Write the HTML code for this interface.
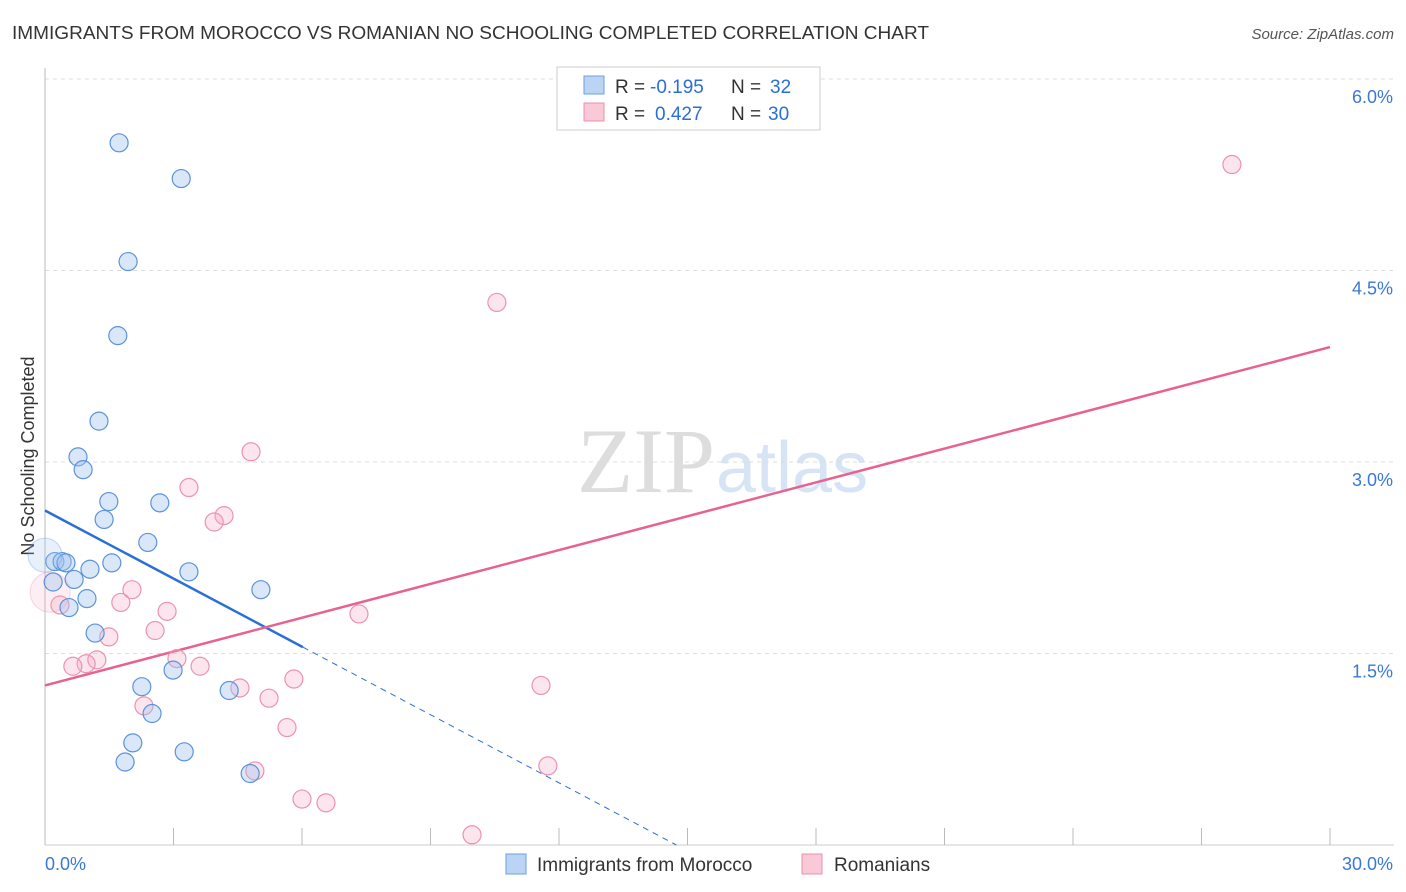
<!DOCTYPE html>
<html><head><meta charset="utf-8">
<style>
body{margin:0;background:#fff;width:1406px;height:892px;overflow:hidden;font-family:"Liberation Sans",sans-serif}
svg{position:absolute;left:0;top:0}
</style></head><body>
<svg id="chart" width="1406" height="892">
<text x="12" y="39" font-size="18" fill="#333" textLength="917" lengthAdjust="spacingAndGlyphs">IMMIGRANTS FROM MOROCCO VS ROMANIAN NO SCHOOLING COMPLETED CORRELATION CHART</text>
<text x="1394" y="39" font-size="15" fill="#555" font-style="italic" text-anchor="end">Source: ZipAtlas.com</text>
<text x="715" y="492" font-size="92" fill="#ddd" text-anchor="end" font-family="Liberation Serif,serif">ZIP</text>
<text x="716" y="492" font-size="72" fill="#d6e4f5">atlas</text>
<text transform="translate(34,456) rotate(-90)" font-size="18" fill="#333" text-anchor="middle">No Schooling Completed</text>
<g id="grid"></g><g id="ticks"></g><g id="trends"></g><g id="pts"></g>
<g>
<rect x="557" y="67" width="263" height="63" fill="#fff" stroke="#ccc"/>
<rect x="584" y="76" width="20" height="18" fill="#bcd4f4" stroke="#6a9fe0"/>
<rect x="584" y="103" width="20" height="18" fill="#f9c9d7" stroke="#ec90ad"/>
<text x="615" y="93" font-size="19" fill="#333">R =</text>
<text x="650" y="93" font-size="19" fill="#2a6fd6">-0.195</text>
<text x="731" y="93" font-size="19" fill="#333">N =</text>
<text x="770" y="93" font-size="19" fill="#2a6fd6">32</text>
<text x="615" y="120" font-size="19" fill="#333">R =</text>
<text x="655" y="120" font-size="19" fill="#2a6fd6">0.427</text>
<text x="731" y="120" font-size="19" fill="#333">N =</text>
<text x="768" y="120" font-size="19" fill="#2a6fd6">30</text>
</g>
<g>
<rect x="506" y="854" width="20" height="20" fill="#bcd4f4" stroke="#6a9fe0"/>
<text x="537" y="871" font-size="19" fill="#333">Immigrants from Morocco</text>
<rect x="802" y="854" width="20" height="20" fill="#f9c9d7" stroke="#ec90ad"/>
<text x="834" y="871" font-size="19" fill="#333">Romanians</text>
</g>
</svg>
<script>
const yTicks=[1.5,3.0,4.5,6.0];
const xTickLabels=["0.0%","30.0%"];
const blueX=[1.73,3.18,1.94,1.70,1.26,0.77,0.89,1.49,2.68,1.38,2.40,0.23,0.40,0.49,1.56,1.05,3.36,0.68,5.04,0.19,0.98,0.56,1.17,2.26,2.99,4.30,2.50,2.05,1.87,3.25,4.79,0.0];
const blueY=[5.50,5.22,4.57,3.99,3.32,3.04,2.94,2.69,2.68,2.55,2.37,2.22,2.22,2.21,2.21,2.16,2.14,2.08,2.00,2.06,1.93,1.86,1.66,1.24,1.37,1.21,1.03,0.80,0.65,0.73,0.56,2.27];
const blueR=[9,9,9,9,9,9,9,9,9,9,9,9,9,9,9,9,9,9,9,9,9,9,9,9,9,9,9,9,9,9,9,17];
const pinkX=[27.71,10.55,4.81,3.36,4.18,3.95,2.03,1.77,2.85,7.33,2.57,1.49,1.21,0.96,0.65,3.08,3.62,5.81,4.55,5.23,2.31,11.58,5.65,4.90,11.74,6.00,6.56,9.97,0.35,0.12];
const pinkY=[5.33,4.25,3.08,2.80,2.58,2.53,2.00,1.90,1.83,1.81,1.68,1.63,1.45,1.42,1.40,1.46,1.40,1.30,1.23,1.15,1.09,1.25,0.92,0.58,0.62,0.36,0.33,0.08,1.88,1.98];
const pinkR=[9,9,9,9,9,9,9,9,9,9,9,9,9,9,9,9,9,9,9,9,9,9,9,9,9,9,9,9,9,20];
const blueTrend=[2.62,1.55,6.02];
const pinkTrend=[1.25,3.90];
const X=v=>45+v/30*1285, Y=v=>845-v/1.5*191.5;
const NS="http://www.w3.org/2000/svg";
function mk(p,t,a){const e=document.createElementNS(NS,t);for(const k in a)e.setAttribute(k,a[k]);p.appendChild(e);return e;}
const grid=document.getElementById('grid'),ticks=document.getElementById('ticks'),trends=document.getElementById('trends'),pts=document.getElementById('pts');
yTicks.forEach(t=>{
 const l=mk(grid,'line',{x1:45,x2:1394,y1:Y(t),y2:Y(t),stroke:'#ddd','stroke-dasharray':'4,4'});
 
 
 const tx=mk(grid,'text',{x:1393,y:Y(t)+24,'font-size':18,fill:'#3a78d8','text-anchor':'end'});
 tx.textContent=t.toFixed(1)+'%';
 
 
});
mk(ticks,'line',{x1:45,x2:45,y1:68,y2:845,stroke:'#bbb'});
mk(ticks,'line',{x1:45,x2:1394,y1:845,y2:845,stroke:'#ccc'});
for(let i=0;i<=10;i++){const x=X(i*3);mk(ticks,'line',{x1:x,x2:x,y1:828,y2:845,stroke:'#bbb'});}
xTickLabels.forEach((s,i)=>{
 const tx=mk(ticks,'text',{x:i?1393:45,y:870,'font-size':18,fill:'#3a78d8','text-anchor':i?'end':'start'});
 tx.textContent=s;
 
 
});
const bSlope=(blueTrend[1]-blueTrend[0])/blueTrend[2];
const xZero=-blueTrend[0]/bSlope;
let e=mk(trends,'line',{x1:X(0),y1:Y(blueTrend[0]),x2:X(blueTrend[2]),y2:Y(blueTrend[1]),stroke:'#2a6fd6','stroke-width':2.5});


e=mk(trends,'line',{x1:X(blueTrend[2]),y1:Y(blueTrend[1]),x2:X(xZero),y2:Y(0),stroke:'#2a6fd6','stroke-width':1,'stroke-dasharray':'6,5'});


e=mk(trends,'line',{x1:X(0),y1:Y(pinkTrend[0]),x2:X(30),y2:Y(pinkTrend[1]),stroke:'#e8628f','stroke-width':2.5});


pinkX.forEach((v,i)=>{
 const big=pinkR[i]>12;
 const c=mk(pts,'circle',{cx:X(v),cy:Y(pinkY[i]),r:pinkR[i],fill:big?'rgba(246,170,195,0.2)':'rgba(246,170,195,0.3)',stroke:big?'rgba(235,147,176,0.3)':'#eb93b0','stroke-width':1.2});
 
 
});
blueX.forEach((v,i)=>{
 const big=blueR[i]>12;
 const c=mk(pts,'circle',{cx:X(v),cy:Y(blueY[i]),r:blueR[i],fill:big?'rgba(160,195,240,0.25)':'rgba(160,195,240,0.4)',stroke:big?'rgba(91,147,220,0.3)':'#5b93dc','stroke-width':1.2});
 
 
});
</script>
</body></html>
